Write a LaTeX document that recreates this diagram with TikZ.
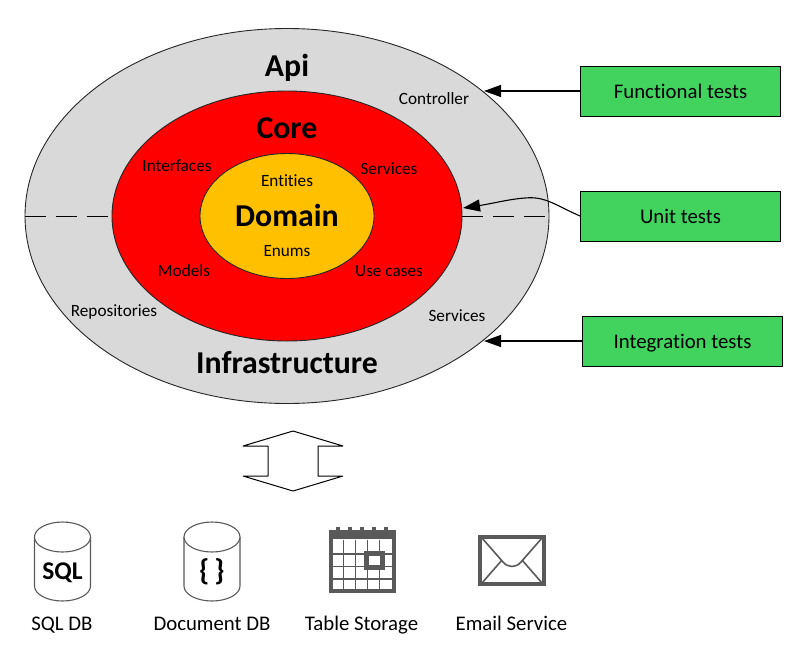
\documentclass[tikz,border=0pt]{standalone}
\usepackage{fontspec}
\setmainfont{Carlito}[Ligatures=NoCommon]
\usepackage{xcolor}
\usepackage{tikz}
\usetikzlibrary{shapes.geometric,arrows.meta}
\definecolor{ringgrey}{HTML}{D9D9D9}
\definecolor{domainyellow}{HTML}{FFC000}
\definecolor{testgreen}{HTML}{41D35E}
\definecolor{icongrey}{HTML}{595959}
\tikzset{
  ring/.style={draw=black!85,ellipse,inner sep=0pt,line width=.9pt},
  testbox/.style={draw=black,fill=testgreen,minimum width=200pt,minimum height=50pt,inner sep=0pt,line width=1pt,text height=19.5pt,text depth=4.5pt,font=\fontsize{20.8}{23}\selectfont},
  small/.style={inner sep=0pt,text height=17pt,text depth=3.5pt,font=\fontsize{17.2}{19}\selectfont},
  big/.style={inner sep=0pt,text height=26pt,text depth=6pt,font=\fontsize{31.8}{34}\selectfont\bfseries},
  caption/.style={inner sep=0pt,text height=19pt,text depth=4pt,font=\fontsize{20.8}{23}\selectfont},
  tip/.style={-{Triangle[length=17pt,width=12pt]},line width=1.1pt},
  can/.style={draw=icongrey,line width=1.1pt,fill=white},
}
\begin{document}
\begin{tikzpicture}[x=1pt,y=-1pt]
  \useasboundingbox (0,0) rectangle (794,659);

  \node[ring,fill=ringgrey,minimum width=524pt,minimum height=375pt] (outer) at (287,216) {};
  \draw[line width=1pt,dash pattern=on 21pt off 10pt] (outer.west) -- (112,216);
  \draw[line width=1pt,dash pattern=on 21pt off 10pt] (462,216) -- (outer.east);
  \node[ring,fill=red,minimum width=350pt,minimum height=250pt] (core) at (287,216) {};
  \node[ring,fill=domainyellow,minimum width=174pt,minimum height=125pt] (domain) at (287,216) {};

  \node[big] (api) at (287,66) {Api};
  \node[big] (corelabel) at (287,128) {Core};
  \node[big] (domainlabel) at (287,216) {Domain};
  \node[big] (infra) at (287,363) {Infrastructure};

  \node[small] (controller) at (434,98) {Controller};
  \node[small] (interfaces) at (177,165) {Interfaces};
  \node[small] (coreservices) at (389,168) {Services};
  \node[small] (entities) at (287,180) {Entities};
  \node[small] (enums) at (287,250) {Enums};
  \node[small] (models) at (184,270) {Models};
  \node[small] (usecases) at (389,270) {Use cases};
  \node[small] (repositories) at (114,310) {Repositories};
  \node[small] (infraservices) at (457,315) {Services};

  \node[testbox] (functional) at (680.5,91) {Functional tests};
  \node[testbox] (unit) at (680.5,216) {Unit tests};
  \node[testbox] (integration) at (682.5,341) {Integration tests};

  \coordinate (functip) at (484,91);
  \coordinate (unittip) at (463,208);
  \coordinate (integtip) at (484,341);
  \draw[tip] (functional.west) -- (functip);
  \draw[tip] (unit.west) .. controls (555,205) and (545,196) .. (525,198) .. controls (510,199) and (490,204) .. (unittip);
  \draw[tip] (integration.west) -- (integtip);

  \draw[fill=white,line width=1pt,line join=bevel] (243,446) -- (293,431) -- (343,446) -- (318,446) -- (318,476)
     -- (343,476) -- (293,491) -- (243,476) -- (268,476) -- (268,446) -- cycle;

  \foreach \cx/\name in {62.5/sqlcan,212/doccan} {
    \draw[can] (\cx-28,537) -- (\cx-28,586) arc (180:0:28 and 15) -- (\cx+28,537);
    \draw[can] (\cx,537) ellipse (28 and 15);
  }
  \node[inner sep=0pt,font=\fontsize{25.5}{27}\selectfont\bfseries] (sqlmark) at (62.5,573) {SQL};
  \node[inner sep=0pt,font=\fontsize{30}{32}\selectfont\bfseries] (docmark) at (212,572) {\{\,\}};

  \draw[icongrey,line width=4pt] (330.5,532) rectangle (393.5,591);
  \draw[icongrey,line width=5pt] (330.5,536.5) -- (393.5,536.5);
  \foreach \tx in {338,350,362,374,386} {
    \draw[icongrey,line width=4pt] (\tx,527) -- (\tx,538);
  }
  \foreach \gx in {343.5,355.5,367.5,379.5} {
    \draw[icongrey,line width=1.8pt] (\gx,540) -- (\gx,591);
  }
  \foreach \gy in {554,566.5,579} {
    \draw[icongrey,line width=1.8pt] (330.5,\gy) -- (393.5,\gy);
  }
  \draw[icongrey,fill=white,line width=5pt] (366.5,553.5) rectangle (382.5,567.5);

  \draw[icongrey,line width=4pt] (480,537) rectangle (544,584);
  \draw[icongrey,line width=1.6pt] (482,538) -- (503,562) .. controls (508,568) and (516,568) .. (521,562) -- (542,538);
  \draw[icongrey,line width=1.6pt] (482,583) -- (502,560);
  \draw[icongrey,line width=1.6pt] (522,560) -- (542,583);

  \node[caption] (sqldb) at (62,623) {SQL DB};
  \node[caption] (docdb) at (212,623) {Document DB};
  \node[caption] (tablestorage) at (361.5,623) {Table Storage};
  \node[caption] (emailservice) at (511.5,623) {Email Service};
\end{tikzpicture}
\end{document}
